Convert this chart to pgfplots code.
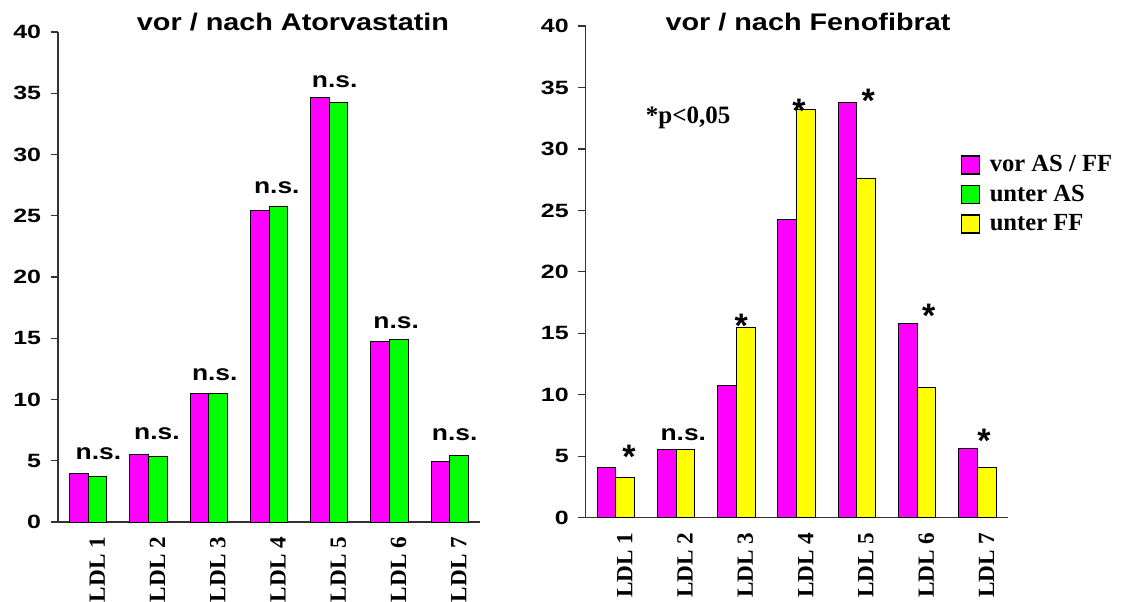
\documentclass[border=0pt]{standalone}
\usepackage{pgfplots}
\pgfplotsset{compat=1.18}
\usepackage{fontspec}
\setmainfont{Liberation Serif}
\newfontfamily\arialw{Liberation Sans}[FakeStretch=1.2]
\newfontfamily\arialt{Liberation Sans}[FakeStretch=1.3]
\newfontfamily\arialn{Liberation Sans}
\definecolor{mag}{RGB}{255,0,255}
\definecolor{grn}{RGB}{0,255,0}
\definecolor{yel}{RGB}{255,255,0}
\newcommand{\tickfont}{\fontsize{9.6pt}{10pt}\selectfont\arialt\bfseries}
\newcommand{\titlefont}{\fontsize{12pt}{14pt}\selectfont\arialw\bfseries}
\newcommand{\nsfont}{\fontsize{11pt}{12pt}\selectfont\arialw\bfseries}
\newcommand{\starfont}{\fontsize{17pt}{18pt}\selectfont\arialn\bfseries}
\pgfplotsset{
  mystyle/.style={
    scale only axis, width=211pt, anchor=south west,
    xmin=-0.5, xmax=6.5, ymin=0, ymax=40,
    axis x line=bottom, axis y line=left,
    axis line style={-, black!80, line width=0.6pt},
    ytick={0,5,...,40},
    tick align=outside,
    major tick length=3.75pt,
    ytick style={black!80, line width=0.6pt},
    xtick style={draw=none},
    xtick={0.15,1.15,2.15,3.15,4.15,5.15,6.15},
    xticklabels={LDL 1,LDL 2,LDL 3,LDL 4,LDL 5,LDL 6,LDL 7},
    xticklabel style={rotate=90, anchor=east, inner sep=0pt, inner xsep=3.5pt,
      font=\fontsize{11.6pt}{12pt}\selectfont\bfseries},
    yticklabel style={font=\tickfont, anchor=east, inner sep=0pt, xshift=-4.5pt},
    /pgf/number format/assume math mode=true,
    ybar, bar width=0.31,
    clip=false,
  },
}
\tikzset{
  ns/.style={anchor=base, inner sep=0pt, font=\nsfont},
  star/.style={anchor=base, inner sep=0pt, font=\starfont},
}
\begin{document}
\begin{tikzpicture}
\useasboundingbox (0,0) rectangle (561pt,300.5pt);
% left chart
\begin{axis}[mystyle, at={(29pt,39.5pt)}, height=245pt]
\addplot[fill=mag, draw=black, line width=0.5pt, bar shift=-0.155] coordinates
  {(0,3.97) (1,5.55) (2,10.5) (3,25.47) (4,34.64) (5,14.72) (6,4.93)};
\addplot[fill=grn, draw=black, line width=0.5pt, bar shift=0.155] coordinates
  {(0,3.75) (1,5.33) (2,10.5) (3,25.74) (4,34.26) (5,14.88) (6,5.42)};
\node[ns] at (axis cs:0.17,5.12) {n.s.};
\node[ns] at (axis cs:1.14,6.72) {n.s.};
\node[ns] at (axis cs:2.10,11.59) {n.s.};
\node[ns] at (axis cs:3.13,26.78) {n.s.};
\node[ns] at (axis cs:4.09,35.45) {n.s.};
\node[ns] at (axis cs:5.11,15.81) {n.s.};
\node[ns] at (axis cs:6.08,6.69) {n.s.};
\end{axis}
% right chart
\begin{axis}[mystyle, at={(292.8pt,41.65pt)}, height=245.85pt,
  legend style={draw=none, fill=none, at={(0.8886,0.745)}, anchor=north west,
    inner sep=0pt, outer sep=0pt, row sep=1.1pt,
    font=\fontsize{12.3pt}{14pt}\selectfont\bfseries,
    /tikz/every odd column/.append style={column sep=3pt}},
  legend cell align=left,
  legend image code/.code={\draw[#1, line width=0.6pt] (0pt,-4.5pt) rectangle (9pt,4.5pt);}]
\addplot[fill=mag, draw=black, line width=0.5pt, bar shift=-0.155] coordinates
  {(0,4.1) (1,5.56) (2,10.72) (3,24.25) (4,33.8) (5,15.79) (6,5.65)};
\addlegendentry{vor AS / FF}
\addlegendimage{fill=grn, draw=black}
\addlegendentry{unter AS}
\addplot[fill=yel, draw=black, line width=0.5pt, bar shift=0.155] coordinates
  {(0,3.31) (1,5.56) (2,15.49) (3,33.23) (4,27.58) (5,10.61) (6,4.1)};
\addlegendentry{unter FF}
\node[ns] at (axis cs:1.12,6.27) {n.s.};
\node[star] at (axis cs:0.22,4.03) {*};
\node[star] at (axis cs:2.08,14.64) {*};
\node[star] at (axis cs:3.04,32.16) {*};
\node[star] at (axis cs:4.19,32.98) {*};
\node[star] at (axis cs:5.19,15.48) {*};
\node[star] at (axis cs:6.11,5.28) {*};
\node[anchor=base, inner sep=0pt, font=\fontsize{12.5pt}{14pt}\selectfont\bfseries] at (axis cs:1.2,32.03) {*p<0,05};
\end{axis}
\node[anchor=base, inner sep=0pt, font=\titlefont] at (146.5pt,285.15pt) {vor / nach Atorvastatin};
\node[anchor=base, inner sep=0pt, font=\titlefont] at (404pt,285.15pt) {vor / nach Fenofibrat};
\end{tikzpicture}
\end{document}
